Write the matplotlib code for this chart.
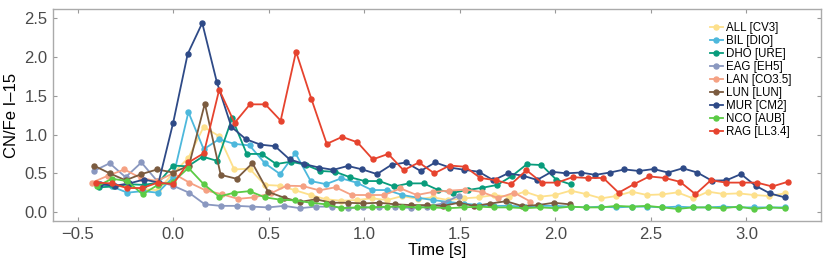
import numpy as np
import matplotlib
matplotlib.use('Agg')
import matplotlib.pyplot as plt

plt.rcParams['font.family'] = ['Liberation Sans', 'DejaVu Sans']

# meteor names [class]
labels = ['ALL [CV3]', 'BIL [DIO]', 'DHO [URE]', 'EAG [EH5]', 'LAN [CO3.5]',
          'LUN [LUN]', 'MUR [CM2]', 'NCO [AUB]', 'RAG [LL3.4]']
colors = ['#fde08c', '#4db8dc', '#089c7c', '#8a98c0', '#f5a183',
          '#7b5b3f', '#2e4a87', '#5bcb45', '#e6432e']

# frame spacing [s] of each series, first frame is 5 frames before t=0
dt = [0.08, 0.08, 0.0771, 0.083, 0.085, 0.083, 0.0762, 0.08, 0.0804]

all_cv3 = [0.38, 0.33, 0.33, 0.30, 0.28, 0.50, 0.70, 1.10, 0.98, 0.55,
           0.56, 0.35, 0.34, 0.28, 0.22, 0.165, 0.146, 0.155, 0.177, 0.155,
           0.207, 0.168, 0.19, 0.155, 0.177, 0.19, 0.22, 0.198, 0.263, 0.198,
           0.22, 0.276, 0.233, 0.177, 0.207, 0.263, 0.22, 0.228, 0.254, 0.177,
           0.263, 0.233, 0.241, 0.22, 0.207, 0.241]
bil_dio = [0.36, 0.33, 0.25, 0.27, 0.25, 0.45, 1.29, 0.81, 0.94, 0.88,
           0.86, 0.63, 0.49, 0.76, 0.40, 0.36, 0.435, 0.38, 0.284, 0.284,
           0.22, 0.185, 0.155, 0.13, 0.11, 0.09, 0.08, 0.08, 0.07, 0.08,
           0.08, 0.07, 0.06, 0.07, 0.06, 0.07, 0.07, 0.06, 0.07, 0.06,
           0.06, 0.07, 0.06, 0.06, 0.06, 0.06]
dho_ure = [0.32, 0.33, 0.36, 0.35, 0.38, 0.60, 0.59, 0.715, 0.66, 1.21,
           0.75, 0.75, 0.62, 0.65, 0.61, 0.53, 0.52, 0.45, 0.40, 0.40,
           0.33, 0.37, 0.37, 0.284, 0.25, 0.284, 0.314, 0.35, 0.465, 0.616,
           0.607, 0.42, 0.357]
eag_eh5 = [0.53, 0.63, 0.45, 0.64, 0.40, 0.34, 0.25, 0.10, 0.08, 0.08,
           0.07, 0.06, 0.08, 0.05, 0.07, 0.07, 0.05, 0.06, 0.06, 0.07,
           0.05, 0.07, 0.11, 0.21]
lan_co35 = [0.38, 0.47, 0.55, 0.44, 0.40, 0.50, 0.38, 0.28, 0.23, 0.17,
            0.19, 0.24, 0.34, 0.335, 0.28, 0.32, 0.22, 0.22, 0.22, 0.305,
            0.22, 0.26, 0.276, 0.29, 0.26, 0.18, 0.25, 0.135]
lun_lun = [0.60, 0.50, 0.41, 0.49, 0.55, 0.51, 0.60, 1.40, 0.48, 0.43,
           0.63, 0.26, 0.185, 0.13, 0.165, 0.12, 0.12, 0.112, 0.12, 0.10,
           0.09, 0.09, 0.078, 0.12, 0.078, 0.11, 0.14, 0.078, 0.09, 0.12,
           0.10]
mur_cm2 = [0.36, 0.34, 0.37, 0.42, 0.38, 1.15, 2.04, 2.44, 1.68, 1.10,
           0.94, 0.87, 0.85, 0.68, 0.62, 0.575, 0.545, 0.595, 0.55, 0.49,
           0.61, 0.64, 0.53, 0.64, 0.575, 0.545, 0.52, 0.41, 0.50, 0.47,
           0.415, 0.52, 0.50, 0.51, 0.48, 0.51, 0.55, 0.53, 0.555, 0.51,
           0.565, 0.51, 0.405, 0.41, 0.49, 0.34, 0.24, 0.19]
nco_aub = [0.33, 0.43, 0.40, 0.23, 0.35, 0.39, 0.57, 0.36, 0.20, 0.25,
           0.27, 0.19, 0.16, 0.15, 0.12, 0.10, 0.05, 0.06, 0.06, 0.07,
           0.07, 0.06, 0.06, 0.05, 0.06, 0.07, 0.06, 0.06, 0.05, 0.06,
           0.05, 0.07, 0.06, 0.06, 0.08, 0.07, 0.08, 0.06, 0.04, 0.06,
           0.06, 0.05, 0.07, 0.04, 0.06, 0.05]
rag_ll34 = [0.38, 0.37, 0.31, 0.31, 0.38, 0.36, 0.64, 0.76, 1.58, 1.15,
            1.39, 1.39, 1.18, 2.07, 1.46, 0.88, 0.97, 0.90, 0.68, 0.75,
            0.54, 0.64, 0.50, 0.60, 0.585, 0.44, 0.41, 0.36, 0.54, 0.38,
            0.38, 0.45, 0.44, 0.44, 0.25, 0.36, 0.46, 0.44, 0.39, 0.23,
            0.41, 0.38, 0.38, 0.38, 0.33, 0.39]

series = [all_cv3, bil_dio, dho_ure, eag_eh5, lan_co35, lun_lun,
          mur_cm2, nco_aub, rag_ll34]

fig = plt.figure(figsize=(8.3, 2.66), dpi=100)
ax = fig.add_axes([0.064, 0.169, 0.925, 0.797])

for vals, step, lab, col in zip(series, dt, labels, colors):
    t = (np.arange(len(vals)) - 5) * step
    ax.plot(t, vals, '-o', color=col, lw=1.3, ms=3.6, label=lab)

ax.set_xlim(-0.628, 3.39)
ax.set_ylim(-0.116, 2.62)
ax.set_xticks([-0.5, 0, 0.5, 1, 1.5, 2, 2.5, 3])
ax.set_yticks([0, 0.5, 1, 1.5, 2, 2.5])
ax.tick_params(direction='in', length=3, color='#999999', labelcolor='#4a4a4a',
               labelsize=12, top=True, right=True, pad=4)
for s in ax.spines.values():
    s.set_color('#aaaaaa')
    s.set_linewidth(1.0)

ax.set_xlabel('Time [s]', fontsize=12, labelpad=1)
ax.set_ylabel('CN/Fe I\u201315', fontsize=12, labelpad=4)

ax.legend(loc='upper left', bbox_to_anchor=(0.855, 0.94), frameon=False,
          fontsize=8.3, handlelength=1.2, handletextpad=0.25, labelspacing=0.09,
          borderpad=0, borderaxespad=0)

fig.savefig('out.png', dpi=100)
